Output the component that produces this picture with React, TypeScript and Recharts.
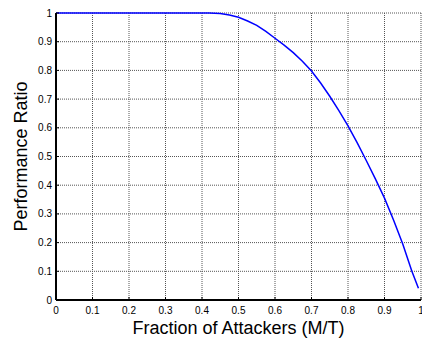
import React from 'react';
import { LineChart, Line, XAxis, YAxis, CartesianGrid } from 'recharts';

// fraction of attackers (M/T) and the resulting performance ratio
const fraction = [
  0, 0.05, 0.1, 0.15, 0.2, 0.25, 0.3, 0.35, 0.4, 0.42, 0.45, 0.475, 0.5, 0.525, 0.55,
  0.575, 0.6, 0.625, 0.65, 0.675, 0.7, 0.725, 0.75, 0.775, 0.8, 0.825, 0.85, 0.875,
  0.9, 0.925, 0.95, 0.975, 0.993,
];
const ratio = [
  1, 1, 1, 1, 1, 1, 1, 1, 1, 1, 0.998, 0.993, 0.985, 0.972, 0.957,
  0.936, 0.912, 0.888, 0.862, 0.832, 0.798, 0.756, 0.71, 0.66, 0.607, 0.548, 0.486, 0.422,
  0.355, 0.278, 0.195, 0.1, 0.041,
];

const xTicks = [0, 0.1, 0.2, 0.3, 0.4, 0.5, 0.6, 0.7, 0.8, 0.9, 1];
const yTicks = [0, 0.1, 0.2, 0.3, 0.4, 0.5, 0.6, 0.7, 0.8, 0.9, 1];

const data = fraction.map((f, i) => ({ f, r: ratio[i] }));

const FONT = '"Liberation Sans", Arial, Helvetica, sans-serif';
const tickStyle = { fill: '#000', fontSize: 10, fontFamily: FONT };

export default function App() {
  return (
    <div
      style={{
        position: 'absolute',
        left: 0,
        top: 0,
        width: 422,
        height: 338,
        background: '#fff',
        fontFamily: FONT,
      }}
    >
      <LineChart
        width={422}
        height={338}
        data={data}
        margin={{ top: 13, right: 1, bottom: 0, left: 0 }}
      >
        <CartesianGrid stroke="#555" strokeDasharray="1 1" />

        <XAxis
          dataKey="f"
          type="number"
          domain={[0, 1]}
          ticks={xTicks}
          interval={0}
          height={38}
          tickSize={-3}
          tickMargin={10}
          tick={tickStyle}
          tickLine={{ stroke: '#000' }}
          axisLine={{ stroke: '#000', strokeWidth: 2 }}
          tickFormatter={(v) => String(v)}
          label={{
            value: 'Fraction of Attackers (M/T)',
            position: 'insideBottom',
            offset: 4,
            fill: '#000',
            fontSize: 18,
            fontFamily: FONT,
          }}
        />
        <YAxis
          type="number"
          domain={[0, 1]}
          ticks={yTicks}
          interval={0}
          width={56}
          tickSize={-3}
          tickMargin={7}
          tick={tickStyle}
          tickLine={{ stroke: '#000' }}
          axisLine={{ stroke: '#000', strokeWidth: 2 }}
          tickFormatter={(v) => String(v)}
          label={{
            value: 'Performance Ratio',
            angle: -90,
            position: 'insideLeft',
            offset: 21,
            fill: '#000',
            fontSize: 18,
            fontFamily: FONT,
            style: { textAnchor: 'middle' },
          }}
        />

        {/* box edges: top and right, ticks pointing inward */}
        <XAxis
          xAxisId="top"
          orientation="top"
          dataKey="f"
          type="number"
          domain={[0, 1]}
          ticks={xTicks}
          interval={0}
          height={0}
          mirror
          tick={false}
          tickSize={3}
          tickLine={{ stroke: '#000' }}
          axisLine={{ stroke: '#000', strokeWidth: 1.5 }}
        />
        <YAxis
          yAxisId="right"
          orientation="right"
          type="number"
          domain={[0, 1]}
          ticks={yTicks}
          interval={0}
          width={0}
          mirror
          tick={false}
          tickSize={3}
          tickLine={{ stroke: '#000' }}
          axisLine={{ stroke: '#000', strokeWidth: 1 }}
        />

        <Line
          type="linear"
          dataKey="r"
          stroke="#0000ff"
          strokeWidth={1.5}
          dot={false}
          isAnimationActive={false}
        />
      </LineChart>
    </div>
  );
}
